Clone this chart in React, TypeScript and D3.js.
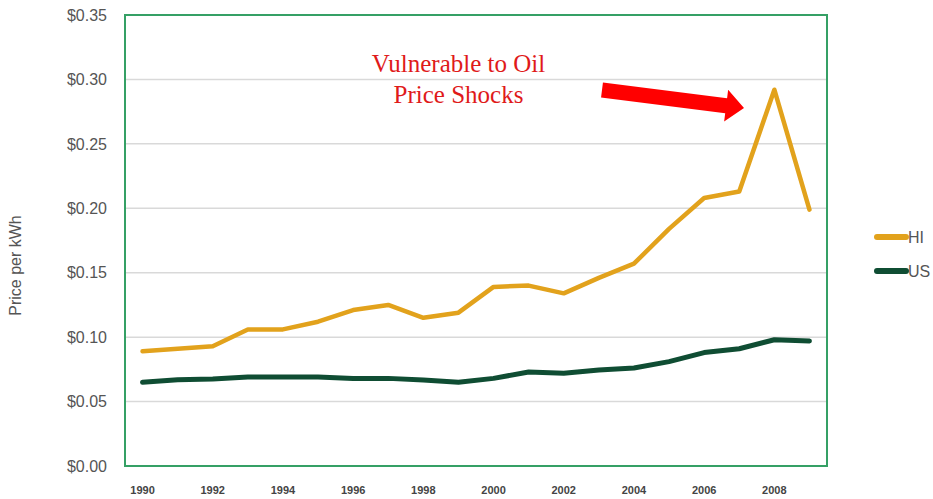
import React, { useEffect, useRef } from 'react';
import * as d3 from 'd3';

const years = [1990, 1991, 1992, 1993, 1994, 1995, 1996, 1997, 1998, 1999, 2000, 2001, 2002, 2003, 2004, 2005, 2006, 2007, 2008, 2009];
const hiPrice = [0.089, 0.091, 0.093, 0.106, 0.106, 0.112, 0.121, 0.125, 0.115, 0.119, 0.139, 0.140, 0.134, 0.146, 0.157, 0.184, 0.208, 0.213, 0.292, 0.199];
const usPrice = [0.065, 0.067, 0.0675, 0.069, 0.069, 0.069, 0.068, 0.068, 0.0667, 0.065, 0.068, 0.073, 0.072, 0.0745, 0.076, 0.081, 0.088, 0.091, 0.098, 0.097];
const yTicks = [0, 0.05, 0.1, 0.15, 0.2, 0.25, 0.3, 0.35];
const xTickYears = [1990, 1992, 1994, 1996, 1998, 2000, 2002, 2004, 2006, 2008];
const seriesNames = ['HI', 'US'];
const seriesColors = ['#e2a21c', '#0f4d33'];

const App = () => {
  const chartRef = useRef(null);

  useEffect(() => {
    if (!chartRef.current) return;
    d3.select(chartRef.current).selectAll('*').remove();

    const margin = { top: 15, right: 106, bottom: 33, left: 125 };
    const W = 933, H = 499;
    const width = W - margin.left - margin.right;
    const height = H - margin.top - margin.bottom;

    const svg = d3.select(chartRef.current)
      .append('svg')
      .attr('width', W)
      .attr('height', H)
      .style('position', 'absolute')
      .style('left', 0)
      .style('top', 0)
      .style('background', '#fff');

    const g = svg.append('g').attr('transform', `translate(${margin.left},${margin.top})`);

    const x = d3.scaleBand().domain(years.map(String)).range([0, width]);
    const cx = (yr) => x(String(yr)) + x.bandwidth() / 2;
    const y = d3.scaleLinear().domain([0, 0.35]).range([height, 0]);

    // grid
    g.selectAll('.grid')
      .data(yTicks.slice(1, -1))
      .enter()
      .append('line')
      .attr('x1', 0)
      .attr('x2', width)
      .attr('y1', (d) => y(d))
      .attr('y2', (d) => y(d))
      .attr('stroke', '#d9d9d9')
      .attr('stroke-width', 1.5);

    // y labels
    g.selectAll('.ylab')
      .data(yTicks)
      .enter()
      .append('text')
      .attr('x', -18)
      .attr('y', (d) => y(d))
      .attr('dy', '0.36em')
      .attr('text-anchor', 'end')
      .attr('font-family', 'Liberation Sans, Arial, sans-serif')
      .attr('font-size', 16)
      .attr('fill', '#555')
      .text((d) => d3.format('$.2f')(d));

    // x labels
    g.selectAll('.xlab')
      .data(xTickYears)
      .enter()
      .append('text')
      .attr('x', (d) => cx(d))
      .attr('y', height + 28)
      .attr('text-anchor', 'middle')
      .attr('font-family', 'Liberation Sans, Arial, sans-serif')
      .attr('font-size', 11)
      .attr('font-weight', 'bold')
      .attr('fill', '#444')
      .text((d) => d);

    // axis title
    svg.append('text')
      .attr('transform', `translate(21,${margin.top + height / 2 + 25}) rotate(-90)`)
      .attr('text-anchor', 'middle')
      .attr('font-family', 'Liberation Sans, Arial, sans-serif')
      .attr('font-size', 16)
      .attr('fill', '#555')
      .text('Price per kWh');

    // lines
    const line = d3.line()
      .x((d) => cx(d[0]))
      .y((d) => y(d[1]));

    [hiPrice, usPrice].forEach((vals, i) => {
      g.append('path')
        .datum(years.map((yr, j) => [yr, vals[j]]))
        .attr('fill', 'none')
        .attr('stroke', seriesColors[i])
        .attr('stroke-width', i === 0 ? 4.5 : 5)
        .attr('stroke-linejoin', 'round')
        .attr('stroke-linecap', 'round')
        .attr('d', line);
    });

    // frame
    g.append('rect')
      .attr('x', 0)
      .attr('y', 0)
      .attr('width', width)
      .attr('height', height)
      .attr('fill', 'none')
      .attr('stroke', '#35a065')
      .attr('stroke-width', 2);

    // annotation
    const ann = g.append('text')
      .attr('text-anchor', 'middle')
      .attr('font-family', 'Liberation Serif, Times New Roman, serif')
      .attr('font-size', 25)
      .attr('fill', '#e01a1a');
    ann.append('tspan').attr('x', cx(1999)).attr('y', 57).text('Vulnerable to Oil');
    ann.append('tspan').attr('x', cx(1999)).attr('y', 88).text('Price Shocks');

    // arrow
    const x0 = 602 - margin.left, y0 = 90 - margin.top;
    const x1 = 744 - margin.left, y1 = 108 - margin.top;
    const ang = Math.atan2(y1 - y0, x1 - x0);
    const len = Math.hypot(x1 - x0, y1 - y0);
    const headLen = 18, shaft = 7.5, head = 16;
    const pts = [
      [0, -shaft], [len - headLen, -shaft], [len - headLen, -head],
      [len, 0], [len - headLen, head], [len - headLen, shaft], [0, shaft],
    ];
    g.append('polygon')
      .attr('points', pts.map((p) => p.join(',')).join(' '))
      .attr('transform', `translate(${x0},${y0}) rotate(${(ang * 180) / Math.PI})`)
      .attr('fill', '#f00');

    // legend
    const lg = svg.append('g').attr('transform', 'translate(875,237)');
    seriesNames.forEach((name, i) => {
      const row = lg.append('g').attr('transform', `translate(0,${i * 34})`);
      row.append('line')
        .attr('x1', 2).attr('x2', 31).attr('y1', 0).attr('y2', 0)
        .attr('stroke', seriesColors[i])
        .attr('stroke-width', 6)
        .attr('stroke-linecap', 'round');
      row.append('text')
        .attr('x', 33)
        .attr('y', 0)
        .attr('dy', '0.36em')
        .attr('font-family', 'Liberation Sans, Arial, sans-serif')
        .attr('font-size', 16)
        .attr('fill', '#555')
        .text(name);
    });
  }, []);

  return <div ref={chartRef}></div>;
};

export default App;
